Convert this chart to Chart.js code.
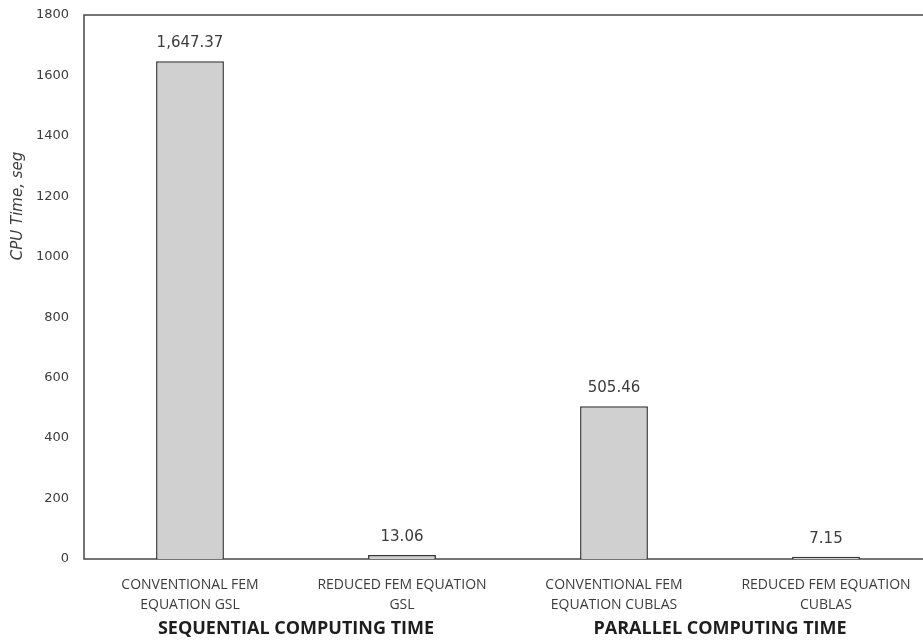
<!DOCTYPE html>
<html>
<head>
<meta charset="utf-8">
<script src="https://cdn.jsdelivr.net/npm/chart.js@4.4.1/dist/chart.umd.min.js"></script>
<style>
  html, body { margin: 0; padding: 0; background: #ffffff; overflow: hidden; }
  #wrap { position: relative; width: 932px; height: 643px; }
</style>
</head>
<body>
<div id="wrap"><canvas id="chart"></canvas></div>
<script>
// Benchmark categories (two-line labels) and measured CPU times in seconds
const categories = [
  ['CONVENTIONAL FEM', 'EQUATION GSL'],
  ['REDUCED FEM EQUATION', 'GSL'],
  ['CONVENTIONAL FEM', 'EQUATION CUBLAS'],
  ['REDUCED FEM EQUATION', 'CUBLAS']
];
const cpuTimes = [1647.37, 13.06, 505.46, 7.15];
const groupLabels = ['SEQUENTIAL COMPUTING TIME', 'PARALLEL COMPUTING TIME'];
const yAxisTitle = 'CPU Time, seg';
const yMin = 0, yMax = 1800, yStep = 200;

const lineColor = '#474747';
const textColor = '#3c3c3c';

// Frame: top, left and bottom edges of the plot area
const framePlugin = {
  id: 'frame',
  beforeDatasetsDraw(chart) {
    const { ctx, chartArea: a } = chart;
    ctx.save();
    ctx.strokeStyle = lineColor;
    ctx.lineWidth = 1.5;
    ctx.beginPath();
    ctx.moveTo(a.right, a.top);
    ctx.lineTo(a.left, a.top);
    ctx.lineTo(a.left, a.bottom);
    ctx.lineTo(a.right, a.bottom);
    ctx.stroke();
    ctx.restore();
  }
};

// Value labels above each bar
const valueLabels = {
  id: 'valueLabels',
  afterDatasetsDraw(chart) {
    const { ctx } = chart;
    const meta = chart.getDatasetMeta(0);
    ctx.save();
    ctx.font = '15px "DejaVu Sans", sans-serif';
    ctx.fillStyle = textColor;
    ctx.textAlign = 'center';
    ctx.textBaseline = 'middle';
    meta.data.forEach((bar, i) => {
      const v = chart.data.datasets[0].data[i];
      const txt = v.toLocaleString('en-US', { minimumFractionDigits: 2, maximumFractionDigits: 2 });
      ctx.fillText(txt, bar.x, bar.y - 18);
    });
    ctx.restore();
  }
};

// Rotated italic y-axis title
const yTitle = {
  id: 'yTitle',
  afterDraw(chart) {
    const { ctx } = chart;
    ctx.save();
    ctx.translate(18, 206);
    ctx.rotate(-Math.PI / 2);
    ctx.font = 'italic 15px "DejaVu Sans", sans-serif';
    ctx.fillStyle = textColor;
    ctx.textAlign = 'center';
    ctx.textBaseline = 'middle';
    ctx.fillText(yAxisTitle, 0, 0);
    ctx.restore();
  }
};

new Chart(document.getElementById('chart'), {
  type: 'bar',
  data: {
    labels: categories,
    datasets: [{
      data: cpuTimes,
      backgroundColor: '#d0d0d0',
      borderColor: '#363636',
      borderWidth: 1.5,
      barPercentage: 0.32,
      categoryPercentage: 1.0
    }]
  },
  options: {
    responsive: true,
    maintainAspectRatio: false,
    animation: false,
    layout: { padding: { top: 0, right: 0, bottom: 0, left: 0 } },
    plugins: {
      legend: { display: false },
      tooltip: { enabled: false }
    },
    scales: {
      x: {
        position: 'bottom',
        weight: 0,
        grid: { display: false, drawTicks: false },
        border: { display: false },
        ticks: {
          color: textColor,
          font: { family: '"Open Sans", sans-serif', size: 14, lineHeight: 1.43 },
          padding: 16,
          maxRotation: 0,
          autoSkip: false
        },
        afterFit(scale) { scale.height = 59; }
      },
      xGroup: {
        type: 'category',
        labels: groupLabels,
        position: 'bottom',
        weight: 1,
        offset: true,
        grid: { display: false, drawTicks: false },
        border: { display: false },
        ticks: {
          color: '#1e1e1e',
          font: { family: '"Open Sans", sans-serif', size: 18, weight: 'bold', lineHeight: 1.2 },
          padding: 0,
          maxRotation: 0,
          autoSkip: false
        },
        afterFit(scale) { scale.height = 25; }
      },
      y: {
        min: yMin,
        max: yMax,
        grid: { display: false, drawTicks: false },
        border: { display: false },
        ticks: {
          stepSize: yStep,
          color: textColor,
          font: { family: '"DejaVu Sans", sans-serif', size: 13 },
          padding: 15,
          callback: (v) => String(v)
        },
        afterFit(scale) {
          scale.width = 84;
          scale.paddingTop = 15;
        }
      }
    }
  },
  plugins: [framePlugin, valueLabels, yTitle]
});
</script>
</body>
</html>
